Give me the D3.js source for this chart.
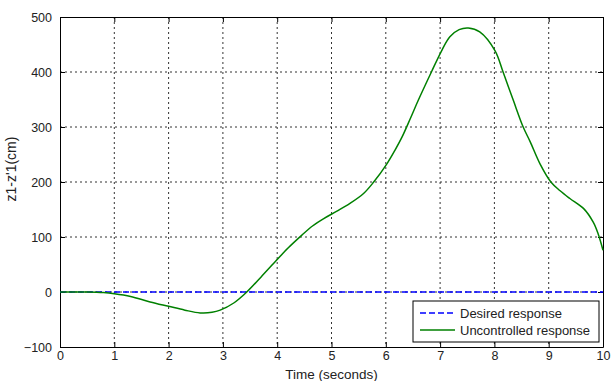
<!DOCTYPE html>
<html>
<head>
<meta charset="utf-8">
<script src="https://cdn.jsdelivr.net/npm/d3@7"></script>
<style>
  body { margin: 0; background: #fff; }
  text { font-family: Arial, "Liberation Sans", sans-serif; }
</style>
</head>
<body>
<div id="chart"></div>
<script>
var timeVals = [0, 0.5, 0.8, 1, 1.3, 1.66, 2, 2.3, 2.58, 2.8, 2.95, 3.2, 3.44, 3.7, 3.99, 4.2, 4.45, 4.65, 4.85, 5.1, 5.34, 5.59, 5.77, 6.02, 6.17, 6.3, 6.45, 6.6, 6.84, 7.03, 7.18, 7.35, 7.52, 7.73, 8.01, 8.16, 8.35, 8.53, 8.66, 8.84, 9.04, 9.21, 9.39, 9.64, 9.82, 9.91, 10];
var uncontrolled = [0, 0, -1, -3, -8, -18, -26, -33, -38, -37, -33, -20, 0, 27, 58, 80, 103, 120, 133, 147, 161, 179, 199, 233, 258, 282, 315, 349, 400, 439, 464, 477, 480, 473, 439, 400, 348, 300, 273, 233, 200, 184, 170, 152, 127, 106, 76];
var desiredT = [0, 10];
var desired = [0, 0];
var xTicks = d3.range(0, 11, 1);
var yTicks = [-100, 0, 100, 200, 300, 400, 500];

var margin = {top: 17, right: 11, bottom: 34, left: 60},
    width = 614 - margin.left - margin.right,
    height = 381 - margin.top - margin.bottom;

var svg = d3.select("#chart")
  .append("svg")
  .attr("width", 614)
  .attr("height", 381)
  .append("g")
  .attr("transform", "translate(" + margin.left + "," + margin.top + ")");

var x = d3.scaleLinear().domain([0, 10]).range([0, width]);
var y = d3.scaleLinear().domain([-100, 500]).range([height, 0]);

// grid
svg.append("g").selectAll("line").data(xTicks.slice(1, -1)).enter().append("line")
  .attr("x1", function(d){ return x(d); }).attr("x2", function(d){ return x(d); })
  .attr("y1", 0).attr("y2", height)
  .attr("stroke", "#333").attr("stroke-dasharray", "2,3").attr("stroke-width", 1);
svg.append("g").selectAll("line").data(yTicks.slice(1, -1)).enter().append("line")
  .attr("y1", function(d){ return y(d); }).attr("y2", function(d){ return y(d); })
  .attr("x1", 0).attr("x2", width)
  .attr("stroke", "#333").attr("stroke-dasharray", "2,3").attr("stroke-width", 1);

// axes
svg.append("g").attr("transform", "translate(0," + height + ")")
  .call(d3.axisBottom(x).tickValues(xTicks).tickSizeInner(-5).tickSizeOuter(0).tickPadding(4));
svg.append("g")
  .call(d3.axisLeft(y).tickValues(yTicks).tickSizeInner(-5).tickSizeOuter(0).tickPadding(8));
svg.append("g").call(d3.axisTop(x).tickValues(xTicks).tickSizeInner(-5).tickSizeOuter(0).tickFormat(""));
svg.append("g").attr("transform", "translate(" + width + ",0)")
  .call(d3.axisRight(y).tickValues(yTicks).tickSizeInner(-5).tickSizeOuter(0).tickFormat(""));
svg.selectAll(".domain").attr("stroke", "#000");
svg.selectAll(".tick line").attr("stroke", "#000");
svg.selectAll(".tick text").attr("font-size", 12.5).attr("fill", "#222");

// lines
var line = d3.line()
  .x(function(d){ return x(d[0]); })
  .y(function(d){ return y(d[1]); })
  .curve(d3.curveCatmullRom.alpha(0.5));

svg.append("path")
  .datum(d3.zip(desiredT, desired))
  .attr("d", line)
  .attr("fill", "none").attr("stroke", "#0000ff")
  .attr("stroke-width", 1.5).attr("stroke-dasharray", "6,3");

svg.append("path")
  .datum(d3.zip(timeVals, uncontrolled))
  .attr("d", line)
  .attr("fill", "none").attr("stroke", "#008000")
  .attr("stroke-width", 1.5);

// axis labels
svg.append("text")
  .attr("x", width / 2).attr("y", height + 32)
  .attr("text-anchor", "middle").attr("font-size", 13.5).attr("fill", "#222")
  .text("Time (seconds)");
svg.append("text")
  .attr("transform", "translate(-44," + (height / 2 - 13) + ") rotate(-90)")
  .attr("text-anchor", "middle").attr("font-size", 14).attr("fill", "#222")
  .text("z1-z'1(cm)");

// legend
var legend = svg.append("g").attr("transform", "translate(353,284)");
legend.append("rect")
  .attr("width", 186).attr("height", 41)
  .attr("fill", "#fff").attr("stroke", "#000");
var items = [
  {name: "Desired response", color: "#0000ff", dash: "6,3"},
  {name: "Uncontrolled response", color: "#008000", dash: null}
];
items.forEach(function(it, i) {
  var yy = 12 + i * 17;
  legend.append("line")
    .attr("x1", 7).attr("x2", 42).attr("y1", yy).attr("y2", yy)
    .attr("stroke", it.color).attr("stroke-width", 1.5)
    .attr("stroke-dasharray", it.dash);
  legend.append("text")
    .attr("x", 47).attr("y", yy + 4.5)
    .attr("font-size", 13).attr("fill", "#222")
    .text(it.name);
});
</script>
</body>
</html>
